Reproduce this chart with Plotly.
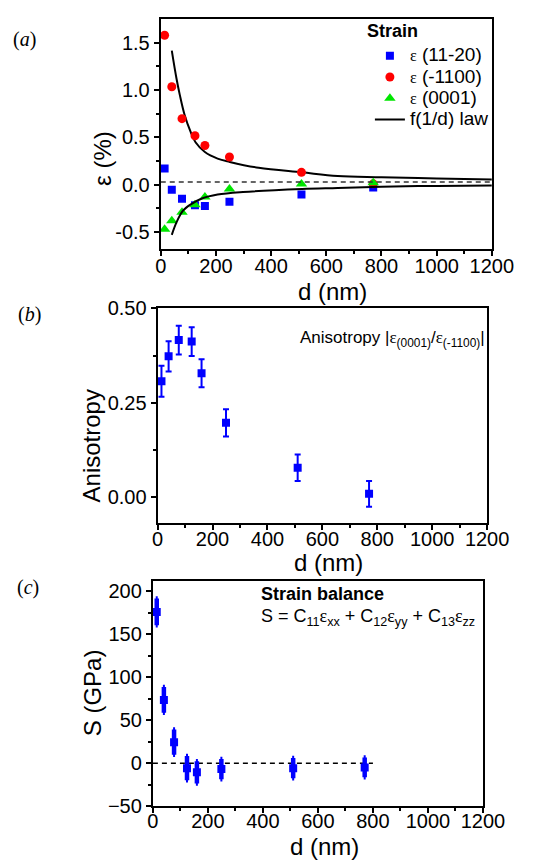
import plotly.graph_objects as go

W, H = 535, 867

# ---- data ----
d_nm = [14, 40, 77, 124, 160, 249, 510, 770]

eps_11_20 = [0.172, -0.052, -0.148, -0.217, -0.224, -0.179, -0.103, -0.03]
eps_m1100 = [1.576, 1.034, 0.697, 0.517, 0.414, 0.293, 0.131, 0.01]
eps_0001 = [-0.47, -0.38, -0.29, -0.21, -0.13, -0.045, 0.007, 0.02]

# f(1/d) law curves
law_d = [40, 57, 69, 86, 109, 126, 160, 206, 250, 355, 512, 641, 800, 1000, 1200]
law_upper = [1.414, 1.12, 0.948, 0.741, 0.552, 0.448, 0.345, 0.276, 0.241, 0.179,
             0.131, 0.093, 0.08, 0.066, 0.056]
law_d_low = [40, 57, 80, 109, 149, 206, 298, 512, 641, 800, 1000, 1200]
law_lower = [-0.528, -0.397, -0.276, -0.207, -0.145, -0.103, -0.076, -0.045, -0.034,
             -0.02, -0.012, -0.007]
eps_ref_level = 0.03

anisotropy = [0.307, 0.373, 0.416, 0.412, 0.328, 0.197, 0.078, 0.009]
anisotropy_err = [0.041, 0.040, 0.038, 0.038, 0.037, 0.036, 0.035, 0.034]

balance_S = [176, 73.6, 24.5, -5.7, -10.6, -6.8, -5.7, -4.9]
balance_err = [15.5, 15, 14.7, 14, 13, 11.7, 11.7, 11.5]
balance_ref_d = [0, 800]
balance_ref_S = [0, 0]

x_ticks = [0, 200, 400, 600, 800, 1000, 1200]

# ---- styling ----
SANS = "Liberation Sans, Arial, sans-serif"
SERIF = "Liberation Serif, Times New Roman, serif"
BLUE = "#0000FF"
RED = "#FF0000"
GREEN = "#00E600"


def px_x(p):
    return p / W


def px_y(p):
    return 1 - p / H


def eps_name(label):
    return ('<span style="font-family:Liberation Serif;font-size:16px">ε</span>'
            '<span style="font-size:19px"> ' + label + '</span>')


fig = go.Figure()

# panel (a)
fig.add_trace(go.Scatter(x=law_d, y=law_upper, mode="lines", line=dict(color="black", width=2, shape="spline"),
                         showlegend=False, xaxis="x", yaxis="y"))
fig.add_trace(go.Scatter(x=d_nm, y=eps_11_20, mode="markers", name=eps_name("(11-20)"),
                         marker=dict(symbol="square", size=8, color=BLUE), xaxis="x", yaxis="y"))
fig.add_trace(go.Scatter(x=d_nm, y=eps_m1100, mode="markers", name=eps_name("(-1100)"),
                         marker=dict(symbol="circle", size=9, color=RED), xaxis="x", yaxis="y"))
fig.add_trace(go.Scatter(x=d_nm, y=eps_0001, mode="markers", name=eps_name("(0001)"),
                         marker=dict(symbol="triangle-up", size=10, color=GREEN), xaxis="x", yaxis="y"))
fig.add_trace(go.Scatter(x=law_d_low, y=law_lower, mode="lines", line=dict(color="black", width=2, shape="spline"),
                         name='<span style="font-size:19px">f(1/d) law</span>', showlegend=True,
                         xaxis="x", yaxis="y"))

# panel (b)
fig.add_trace(go.Scatter(x=d_nm, y=anisotropy, mode="markers", showlegend=False,
                         marker=dict(symbol="square", size=8, color=BLUE),
                         error_y=dict(type="data", array=anisotropy_err, color=BLUE, thickness=2, width=3),
                         xaxis="x2", yaxis="y2"))

# panel (c)
fig.add_trace(go.Scatter(x=balance_ref_d, y=balance_ref_S, mode="lines", showlegend=False,
                         line=dict(color="black", width=1.3, dash="5px,4px"), xaxis="x3", yaxis="y3"))
fig.add_trace(go.Scatter(x=d_nm, y=balance_S, mode="markers", showlegend=False,
                         marker=dict(symbol="square", size=8, color=BLUE),
                         error_y=dict(type="data", array=balance_err, color=BLUE, thickness=4.5, width=1),
                         xaxis="x3", yaxis="y3"))

fig.add_shape(type="line", xref="x", yref="y", x0=0, x1=1200, y0=eps_ref_level, y1=eps_ref_level,
              line=dict(color="#333333", width=1.5, dash="5px,4px"))

axis_common = dict(
    showline=True, linecolor="black", linewidth=2, mirror=True,
    ticks="outside", ticklen=5, tickwidth=1.5, tickcolor="black",
    showgrid=False, zeroline=False,
    tickfont=dict(family=SANS, size=20, color="black"),
)
minor_common = dict(ticks="outside", ticklen=3, tickwidth=1.5, tickcolor="black", showgrid=False)

xdom = {
    "a": [px_x(163.3), px_x(512.7)],
    "b": [px_x(160), px_x(507.7)],
    "c": [px_x(155), px_x(503.3)],
}
ydom = {
    "a": [px_y(245), px_y(9.3)],
    "b": [px_y(525.3), px_y(305)],
    "c": [px_y(816), px_y(584.7)],
}
x_standoff = {"a": -7, "b": -8, "c": -9}

for idx, key in zip(["", "2", "3"], ["a", "b", "c"]):
    fig.layout["xaxis" + idx] = dict(axis_common, domain=xdom[key], range=[0, 1200],
                                     tickvals=x_ticks, anchor="y" + idx, ticklabelstandoff=x_standoff[key],
                                     minor=dict(minor_common, dtick=100))

fig.layout["yaxis"] = dict(axis_common, domain=ydom["a"], range=[-0.678, 1.747], anchor="x",
                           tickvals=[-0.5, 0.0, 0.5, 1.0, 1.5], ticktext=["-0.5", "0.0", "0.5", "1.0", "1.5"],
                           minor=dict(minor_common, tick0=0, dtick=0.25))
fig.layout["yaxis2"] = dict(axis_common, domain=ydom["b"], range=[-0.067, 0.502], anchor="x2",
                            tickvals=[0, 0.25, 0.5], ticktext=["0.00", "0.25", "0.50"],
                            minor=dict(minor_common, tick0=0, dtick=0.125))
fig.layout["yaxis3"] = dict(axis_common, domain=ydom["c"], range=[-50, 212.5], anchor="x3",
                            tickvals=[-50, 0, 50, 100, 150, 200],
                            minor=dict(minor_common, tick0=0, dtick=25))


def note(text, x, y, size, xanchor="center", angle=0, family=SANS):
    fig.add_annotation(text=text, x=px_x(x), y=px_y(y), xref="paper", yref="paper",
                       xanchor=xanchor, yanchor="middle", showarrow=False, textangle=angle,
                       font=dict(family=family, size=size, color="black"))


# panel labels
note("(<i>a</i>)", 20, 30, 20, family=SERIF)
note("(<i>b</i>)", 25, 312, 20, family=SERIF)
note("(<i>c</i>)", 23, 592, 20, family=SERIF)

# axis titles
note("ε (%)", 102, 152, 24, angle=-90)
note("Anisotropy", 90, 447, 24, angle=-90)
note("S (GPa)", 91, 700, 24, angle=-90)
note("d (nm)", 345, 288, 24)
note("d (nm)", 340, 566, 24)
note("d (nm)", 336, 857, 24)

# legend heading
note("<b>Strain</b>", 408, 22, 18)

# in-plot notes
note('Anisotropy |<span style="font-family:Liberation Serif">ε</span><sub>(0001)</sub>/'
     '<span style="font-family:Liberation Serif">ε</span><sub>(-1100)</sub>|', 308, 337, 17, xanchor="left")
note("<b>Strain balance</b>", 267, 599, 18, xanchor="left")
note('S = C<sub>11</sub><span style="font-family:Liberation Serif">ε</span><sub>xx</sub> + '
     'C<sub>12</sub><span style="font-family:Liberation Serif">ε</span><sub>yy</sub> + '
     'C<sub>13</sub><span style="font-family:Liberation Serif">ε</span><sub>zz</sub>', 267, 623, 18, xanchor="left")

fig.update_layout(
    width=W, height=H,
    margin=dict(l=0, r=0, t=0, b=0),
    paper_bgcolor="white", plot_bgcolor="white",
    font=dict(family=SANS, color="black"),
    legend=dict(x=px_x(384), y=px_y(31), xanchor="left", yanchor="top",
                font=dict(family=SANS, size=14, color="black"),
                bgcolor="rgba(0,0,0,0)", itemwidth=30, tracegroupgap=0, traceorder="normal"),
)

fig.write_html("out.html")
